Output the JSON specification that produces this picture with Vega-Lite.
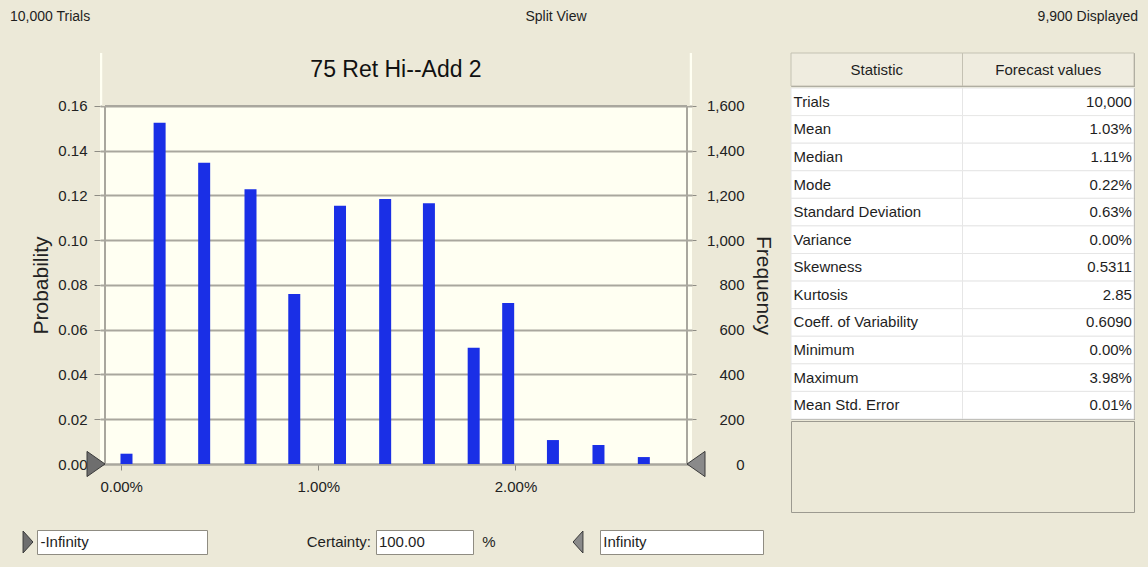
{
  "$schema": "https://vega.github.io/schema/vega-lite/v6.json",
  "background": "#ECE9D8",
  "padding": 0,
  "spacing": 0,
  "config": {
    "font": "Liberation Sans",
    "view": {"stroke": null},
    "text": {"font": "Liberation Sans", "fontSize": 15, "color": "#1E1E1E"},
    "axis": {"labelFont": "Liberation Sans", "titleFont": "Liberation Sans", "labelColor": "#222222", "titleColor": "#222222"},
    "title": {"font": "Liberation Sans", "color": "#111111"}
  },
  "vconcat": [
    {
      "width": 1148,
      "height": 52,
      "data": {"values": [
        {"part": "trials", "label": "10,000 Trials"},
        {"part": "view", "label": "Split View"},
        {"part": "displayed", "label": "9,900 Displayed"}
      ]},
      "encoding": {
        "x": {"field": "part", "type": "nominal", "axis": null, "scale": {"type": "point", "domain": ["trials", "view", "displayed"], "padding": 0.0177}},
        "y": {"datum": "bar", "type": "nominal", "axis": null, "bandPosition": 0.327, "scale": {"type": "band", "paddingInner": 0, "paddingOuter": 0}},
        "text": {"field": "label"}
      },
      "layer": [
        {"transform": [{"filter": "datum.part == 'trials'"}], "mark": {"type": "text", "align": "left", "baseline": "middle", "fontSize": 14}},
        {"transform": [{"filter": "datum.part == 'view'"}], "mark": {"type": "text", "align": "center", "baseline": "middle", "fontSize": 14, "dx": -18}},
        {"transform": [{"filter": "datum.part == 'displayed'"}], "mark": {"type": "text", "align": "right", "baseline": "middle", "fontSize": 14}}
      ]
    },
    {
      "spacing": 0,
      "hconcat": [
        {"width": 30, "height": 20, "data": {"values": [{}]}, "mark": "text", "encoding": {"text": {"value": ""}}},
        {
          "width": 592,
          "height": 411,
          "title": {"text": "75 Ret Hi--Add 2", "fontSize": 23, "fontWeight": "normal", "anchor": "middle", "frame": "group", "offset": -29},
          "view": {"fill": "#FFFFF2", "stroke": null},
          "data": {"values": [
            {"ret": 0.00027, "prob": 0.0046, "count": 46},
            {"ret": 0.00195, "prob": 0.1525, "count": 1525},
            {"ret": 0.00421, "prob": 0.1346, "count": 1346},
            {"ret": 0.00656, "prob": 0.1228, "count": 1228},
            {"ret": 0.00878, "prob": 0.0760, "count": 760},
            {"ret": 0.01110, "prob": 0.1154, "count": 1154},
            {"ret": 0.01339, "prob": 0.1184, "count": 1184},
            {"ret": 0.01561, "prob": 0.1165, "count": 1165},
            {"ret": 0.01788, "prob": 0.0520, "count": 520},
            {"ret": 0.01963, "prob": 0.0720, "count": 720},
            {"ret": 0.02190, "prob": 0.0107, "count": 107},
            {"ret": 0.02421, "prob": 0.0085, "count": 85},
            {"ret": 0.02651, "prob": 0.0031, "count": 31}
          ]},
          "layer": [
            {
              "layer": [
                {
                  "mark": {"type": "bar", "width": 12, "color": "#1A2FE6"},
                  "encoding": {
                    "x": {"field": "ret", "type": "quantitative",
                      "scale": {"domain": [-0.00082, 0.0287], "nice": false, "zero": false},
                      "axis": {"values": [0, 0.01, 0.02], "format": ".2%", "title": null, "grid": false, "zindex": 0,
                        "domain": true, "domainColor": "#A9A79E", "domainWidth": 2,
                        "tickSize": 6, "tickColor": "#8E8C84", "labelFontSize": 15, "labelPadding": 9}},
                    "y": {"field": "prob", "type": "quantitative",
                      "scale": {"domain": [0, 0.183687], "nice": false},
                      "axis": {"values": [0, 0.02, 0.04, 0.06, 0.08, 0.1, 0.12, 0.14, 0.16], "format": ".2f", "zindex": 0,
                        "title": "Probability", "titleFontSize": 21, "titleFontWeight": "normal", "titlePadding": 6, "titleY": 232,
                        "grid": true, "gridColor": "#A9A79E", "gridWidth": 2, "domain": false,
                        "tickSize": 6, "tickColor": "#8E8C84", "labelFontSize": 15, "labelPadding": 7}}
                  }
                },
                {
                  "data": {"values": [{}]},
                  "mark": {"type": "rect", "color": "#ECE9D8"},
                  "encoding": {
                    "x": {"datum": -0.00096, "type": "quantitative"},
                    "x2": {"datum": 0.02884},
                    "y": {"datum": 0.16, "type": "quantitative"},
                    "y2": {"datum": 0.183687}
                  }
                },
                {
                  "data": {"values": [{}]},
                  "mark": {"type": "rule", "color": "#A9A79E", "strokeWidth": 2},
                  "encoding": {
                    "x": {"datum": -0.00082, "type": "quantitative"},
                    "x2": {"datum": 0.0287},
                    "y": {"datum": 0.16, "type": "quantitative"}
                  }
                },
                {
                  "data": {"values": [{}]},
                  "mark": {"type": "rule", "color": "#A9A79E", "strokeWidth": 2},
                  "encoding": {
                    "x": {"datum": -0.00082, "type": "quantitative"},
                    "y": {"datum": 0, "type": "quantitative"},
                    "y2": {"datum": 0.16}
                  }
                },
                {
                  "data": {"values": [{}]},
                  "mark": {"type": "rule", "color": "#A9A79E", "strokeWidth": 2},
                  "encoding": {
                    "x": {"datum": 0.0287, "type": "quantitative"},
                    "y": {"datum": 0, "type": "quantitative"},
                    "y2": {"datum": 0.16}
                  }
                },
                {
                  "data": {"values": [{"end": "lower"}]},
                  "mark": {"type": "point", "shape": "M -1 -0.7 L 0 0 L -1 0.7 Z", "size": 1296, "filled": true, "fill": "#6E6E6E", "stroke": "#3A3A3A", "strokeWidth": 1, "opacity": 1},
                  "encoding": {"x": {"datum": -0.00082, "type": "quantitative"}, "y": {"datum": 0, "type": "quantitative"}}
                },
                {
                  "data": {"values": [{"end": "upper"}]},
                  "mark": {"type": "point", "shape": "M 1 -0.7 L 0 0 L 1 0.7 Z", "size": 1296, "filled": true, "fill": "#8A8A8A", "stroke": "#3A3A3A", "strokeWidth": 1, "opacity": 1},
                  "encoding": {"x": {"datum": 0.0287, "type": "quantitative"}, "y": {"datum": 0, "type": "quantitative"}}
                }
              ]
            },
            {
              "mark": {"type": "bar", "width": 12, "opacity": 0},
              "encoding": {
                "x": {"field": "ret", "type": "quantitative"},
                "y": {"field": "count", "type": "quantitative",
                  "scale": {"domain": [0, 1836.87], "nice": false},
                  "axis": {"orient": "right", "values": [0, 200, 400, 600, 800, 1000, 1200, 1400, 1600], "format": ",d", "zindex": 0,
                    "title": "Frequency", "titleFontSize": 21, "titleFontWeight": "normal", "titlePadding": 8, "titleY": 232,
                    "grid": false, "domain": false,
                    "tickSize": 4, "tickColor": "#8E8C84",
                    "labelFontSize": 15, "labelAlign": "right", "labelPadding": 48}}
              }
            }
          ],
          "resolve": {"scale": {"y": "independent"}}
        },
        {"width": 17, "height": 20, "data": {"values": [{}]}, "mark": "text", "encoding": {"text": {"value": ""}}},
        {
          "spacing": 0,
          "vconcat": [
            {
              "width": 343,
              "height": 33,
              "view": {"stroke": "#9C9A90", "strokeWidth": 1},
              "data": {"values": [{"col": "Statistic"}, {"col": "Forecast values"}]},
              "encoding": {"x": {"field": "col", "type": "nominal", "axis": null, "scale": {"domain": ["Statistic", "Forecast values"], "paddingInner": 0, "paddingOuter": 0}}},
              "layer": [
                {"mark": {"type": "rect", "fill": "#EFECDF", "stroke": "#C4C1B3", "strokeWidth": 1}},
                {"mark": {"type": "text", "fontSize": 15}, "encoding": {"text": {"field": "col"}}}
              ]
            },
            {
              "width": 343,
              "height": 331,
              "view": {"stroke": "#9C9A90", "strokeWidth": 1},
              "data": {"values": [
                {"stat": "Trials", "value": "10,000"},
                {"stat": "Mean", "value": "1.03%"},
                {"stat": "Median", "value": "1.11%"},
                {"stat": "Mode", "value": "0.22%"},
                {"stat": "Standard Deviation", "value": "0.63%"},
                {"stat": "Variance", "value": "0.00%"},
                {"stat": "Skewness", "value": "0.5311"},
                {"stat": "Kurtosis", "value": "2.85"},
                {"stat": "Coeff. of Variability", "value": "0.6090"},
                {"stat": "Minimum", "value": "0.00%"},
                {"stat": "Maximum", "value": "3.98%"},
                {"stat": "Mean Std. Error", "value": "0.01%"}
              ]},
              "encoding": {"y": {"field": "stat", "type": "nominal", "sort": null, "axis": null, "scale": {"type": "band", "paddingInner": 0, "paddingOuter": 0}}},
              "layer": [
                {"mark": {"type": "rect", "fill": "#FFFFFF", "stroke": "#E6E6E6", "strokeWidth": 1},
                 "encoding": {"x": {"datum": "Statistic", "type": "nominal", "axis": null, "scale": {"domain": ["Statistic", "Forecast values"], "paddingInner": 0, "paddingOuter": 0}}}},
                {"mark": {"type": "rect", "fill": "#FFFFFF", "stroke": "#E6E6E6", "strokeWidth": 1},
                 "encoding": {"x": {"datum": "Forecast values", "type": "nominal"}}},
                {"mark": {"type": "text", "align": "left", "fontSize": 15},
                 "encoding": {"x": {"datum": "Statistic", "type": "nominal", "bandPosition": 0.015}, "text": {"field": "stat"}}},
                {"mark": {"type": "text", "align": "right", "fontSize": 15},
                 "encoding": {"x": {"datum": "Forecast values", "type": "nominal", "bandPosition": 0.988}, "text": {"field": "value"}}}
              ]
            },
            {"width": 343, "height": 91, "view": {"stroke": "#9C9A90", "strokeWidth": 1}, "data": {"values": [{}]}, "mark": "text", "encoding": {"text": {"value": ""}}}
          ]
        }
      ]
    },
    {"width": 1, "height": 13, "data": {"values": [{}]}, "mark": "text", "encoding": {"text": {"value": ""}}},
    {
      "spacing": 0,
      "hconcat": [
        {"width": 36, "height": 24, "data": {"values": [{"end": "lower"}]},
         "mark": {"type": "point", "shape": "M -0.45 -1 L 0.45 0 L -0.45 1 Z", "size": 484, "filled": true, "fill": "#6E6E6E", "stroke": "#3A3A3A", "strokeWidth": 1, "opacity": 1},
         "encoding": {"x": {"datum": "grip", "type": "nominal", "axis": null, "bandPosition": 0.778, "scale": {"type": "band", "paddingInner": 0, "paddingOuter": 0}}}},
        {"width": 170, "height": 24, "view": {"fill": "#FFFFFF", "stroke": "#8F8C82", "strokeWidth": 1},
         "data": {"values": [{"t": "-Infinity"}]},
         "mark": {"type": "text", "align": "left", "fontSize": 15},
         "encoding": {"x": {"field": "t", "type": "nominal", "axis": null, "bandPosition": 0.02, "scale": {"type": "band", "paddingInner": 0, "paddingOuter": 0}}, "text": {"field": "t"}}},
        {"width": 167, "height": 24, "data": {"values": [{"t": "Certainty:"}]},
         "mark": {"type": "text", "align": "right", "fontSize": 15},
         "encoding": {"x": {"field": "t", "type": "nominal", "axis": null, "bandPosition": 0.976, "scale": {"type": "band", "paddingInner": 0, "paddingOuter": 0}}, "text": {"field": "t"}}},
        {"width": 97, "height": 24, "view": {"fill": "#FFFFFF", "stroke": "#8F8C82", "strokeWidth": 1},
         "data": {"values": [{"t": "100.00"}]},
         "mark": {"type": "text", "align": "left", "fontSize": 15},
         "encoding": {"x": {"field": "t", "type": "nominal", "axis": null, "bandPosition": 0.03, "scale": {"type": "band", "paddingInner": 0, "paddingOuter": 0}}, "text": {"field": "t"}}},
        {"width": 125, "height": 24,
         "encoding": {"x": {"datum": "w", "type": "nominal", "axis": null, "scale": {"type": "band", "paddingInner": 0, "paddingOuter": 0}}},
         "layer": [
           {"data": {"values": [{"t": "%"}]},
            "mark": {"type": "text", "fontSize": 15},
            "encoding": {"x": {"datum": "w", "type": "nominal", "bandPosition": 0.12}, "text": {"field": "t"}}},
           {"data": {"values": [{"end": "upper"}]},
            "mark": {"type": "point", "shape": "M 0.45 -1 L -0.45 0 L 0.45 1 Z", "size": 484, "filled": true, "fill": "#8A8A8A", "stroke": "#3A3A3A", "strokeWidth": 1, "opacity": 1},
            "encoding": {"x": {"datum": "w", "type": "nominal", "bandPosition": 0.832}}}
         ]},
        {"width": 163, "height": 24, "view": {"fill": "#FFFFFF", "stroke": "#8F8C82", "strokeWidth": 1},
         "data": {"values": [{"t": "Infinity"}]},
         "mark": {"type": "text", "align": "left", "fontSize": 15},
         "encoding": {"x": {"field": "t", "type": "nominal", "axis": null, "bandPosition": 0.02, "scale": {"type": "band", "paddingInner": 0, "paddingOuter": 0}}, "text": {"field": "t"}}}
      ]
    },
    {"width": 1, "height": 24, "data": {"values": [{}]}, "mark": "text", "encoding": {"text": {"value": ""}}}
  ]
}
